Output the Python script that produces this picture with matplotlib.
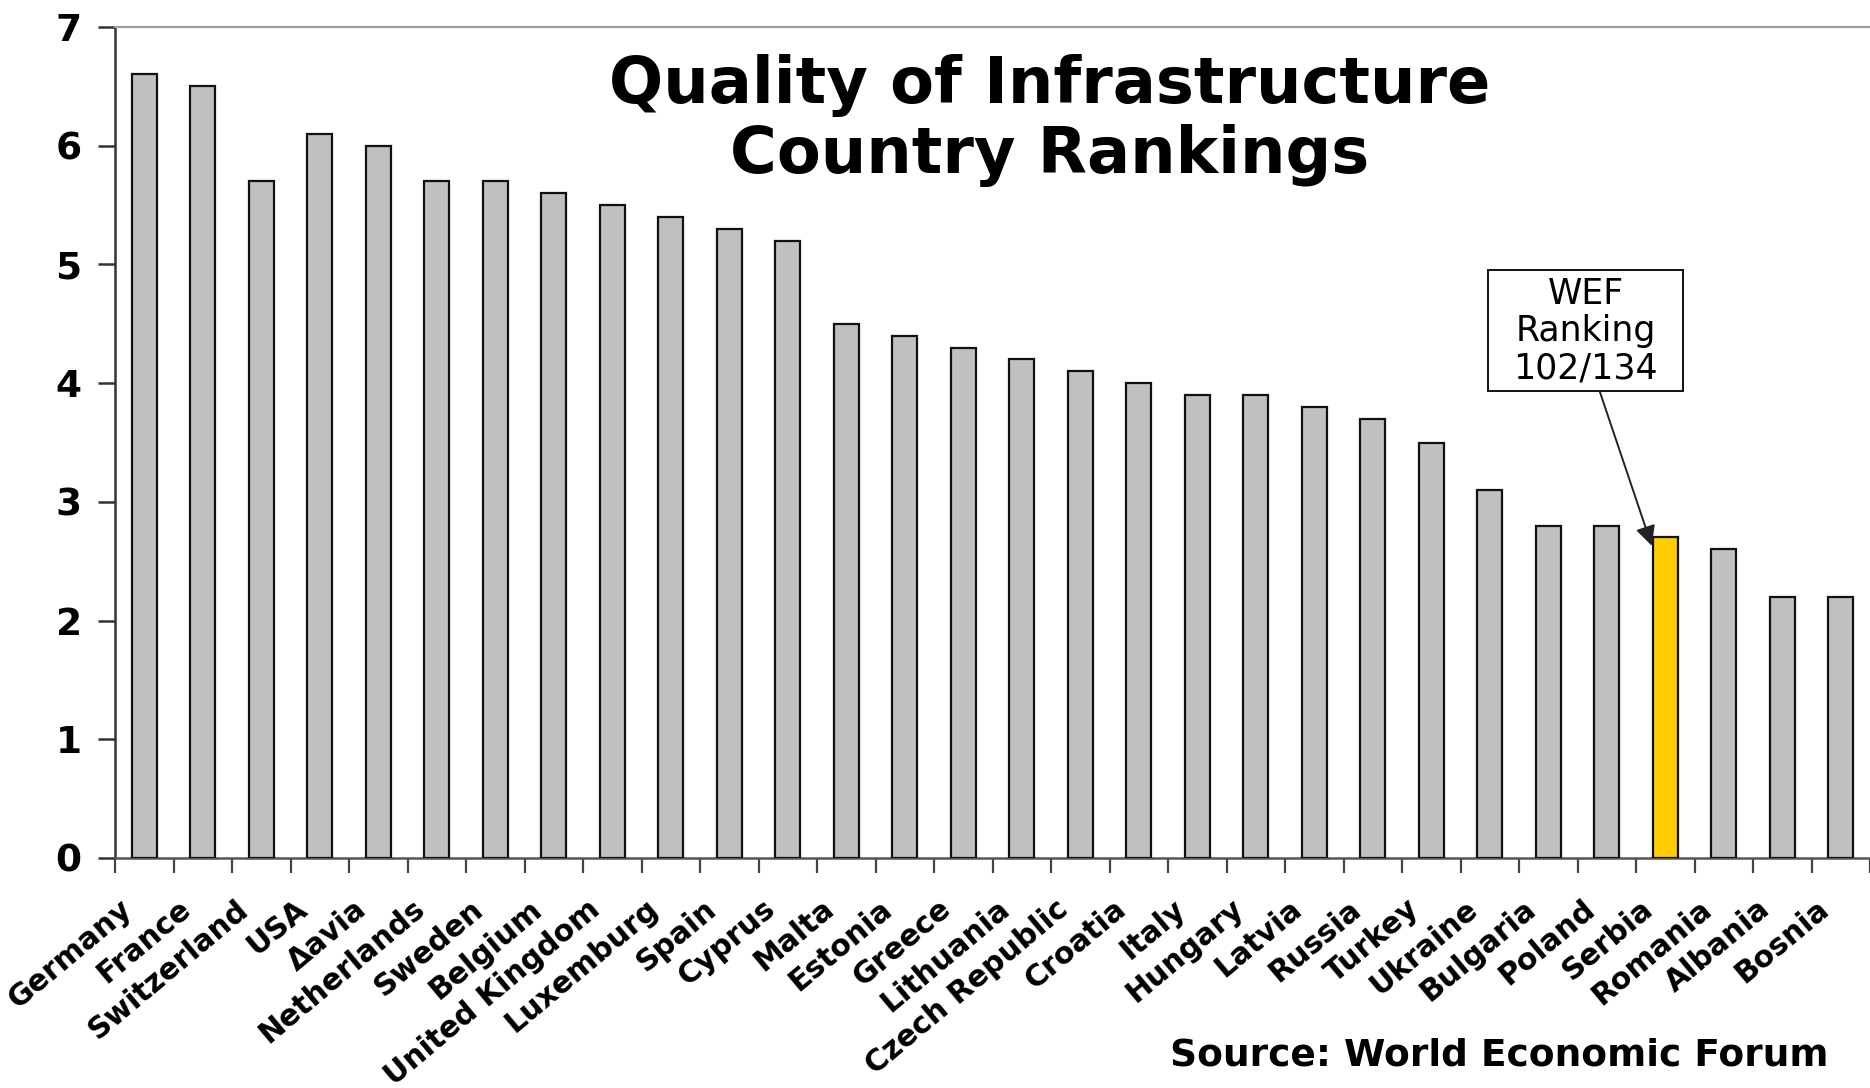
import matplotlib
matplotlib.use("Agg")
import matplotlib.pyplot as plt
import matplotlib.transforms as mtransforms
from matplotlib.patches import Rectangle
import numpy as np

# Infrastructure quality scores (WEF), in ranking order
countries = ["Germany", "France", "Switzerland", "USA", "Δavia", "Netherlands",
             "Sweden", "Belgium", "United Kingdom", "Luxemburg", "Spain", "Cyprus",
             "Malta", "Estonia", "Greece", "Lithuania", "Czech Republic", "Croatia",
             "Italy", "Hungary", "Latvia", "Russia", "Turkey", "Ukraine", "Bulgaria",
             "Poland", "Serbia", "Romania", "Albania", "Bosnia"]
scores = [6.6, 6.5, 5.7, 6.1, 6.0, 5.7, 5.7, 5.6, 5.5, 5.4, 5.3, 5.2,
          4.5, 4.4, 4.3, 4.2, 4.1, 4.0, 3.9, 3.9, 3.8, 3.7, 3.5, 3.1,
          2.8, 2.8, 2.7, 2.6, 2.2, 2.2]
highlight = "Serbia"
y_ticks = [0, 1, 2, 3, 4, 5, 6, 7]

title = "Quality of Infrastructure\nCountry Rankings"
callout = "WEF\nRanking\n102/134"
source = "Source: World Economic Forum"

W, H = 1870, 1088
fig = plt.figure(figsize=(W / 100, H / 100), dpi=100)
fig.patch.set_facecolor("white")

left_px, right_px, top_px, bottom_px = 115, 1870, 27, 858
ax = fig.add_axes([left_px / W, 1 - bottom_px / H,
                   (right_px - left_px) / W, (bottom_px - top_px) / H])

x = np.arange(len(countries))
colors = ["#FFCC00" if c == highlight else "#C0C0C0" for c in countries]
ax.bar(x, scores, width=0.42, color=colors, edgecolor="#111111", linewidth=1.6, zorder=3)

ax.set_xlim(-0.5, len(countries) - 0.5)
ax.set_ylim(0, 7)

# y axis
ax.set_yticks(y_ticks)
ax.set_yticklabels([str(v) for v in y_ticks], fontsize=27, fontweight="heavy",
                   family="DejaVu Sans")
ax.tick_params(axis="y", direction="out", length=12, width=1.8, color="#333333", pad=12)

# x axis: labels at category centres, tick marks between categories
ax.set_xticks(x)
ax.set_xticklabels(countries, fontsize=21.5, fontweight="bold", rotation=40,
                   ha="right", va="center", rotation_mode="anchor",
                   family="DejaVu Sans")
ax.tick_params(axis="x", which="major", length=0, pad=34)
shift = mtransforms.ScaledTranslation(-16 / 100, 0, fig.dpi_scale_trans)
for lbl in ax.get_xticklabels():
    lbl.set_transform(lbl.get_transform() + shift)
ax.set_xticks(np.arange(-0.5, len(countries), 1.0), minor=True)
ax.tick_params(axis="x", which="minor", direction="out", length=11, width=1.6,
               color="#444444")

ax.spines["right"].set_visible(False)
ax.spines["top"].set_color("#A0A0A0")
ax.spines["top"].set_linewidth(1.6)
ax.spines["left"].set_color("#333333")
ax.spines["left"].set_linewidth(1.8)
ax.spines["bottom"].set_color("#555555")
ax.spines["bottom"].set_linewidth(1.8)

# callout box with arrow pointing at the highlighted bar
idx = countries.index(highlight)
box = Rectangle((22.97, 3.93), 3.33, 1.02, facecolor="white", edgecolor="#111111",
                linewidth=1.4, zorder=5)
ax.add_patch(box)
ax.text(24.64, 4.44, callout, ha="center", va="center", fontsize=25,
        linespacing=1.12, zorder=6, family="DejaVu Sans")
ax.annotate("", xy=(idx - 0.23, scores[idx] - 0.07), xytext=(24.88, 3.93),
            arrowprops=dict(arrowstyle="-|>", color="#222222", lw=1.4,
                            mutation_scale=30, shrinkA=0, shrinkB=0),
            zorder=6)

# title and source (baseline of the second title line)
fig.text(1050 / W, 1 - 173 / H, title, ha="center", va="baseline", fontsize=46,
         fontweight="bold", family="DejaVu Sans", linespacing=1.15)
fig.text(1828 / W, 1 - 1066 / H, source, ha="right", va="baseline", fontsize=27,
         fontweight="bold", family="DejaVu Sans")

fig.savefig("out.png", dpi=100, facecolor="white")
